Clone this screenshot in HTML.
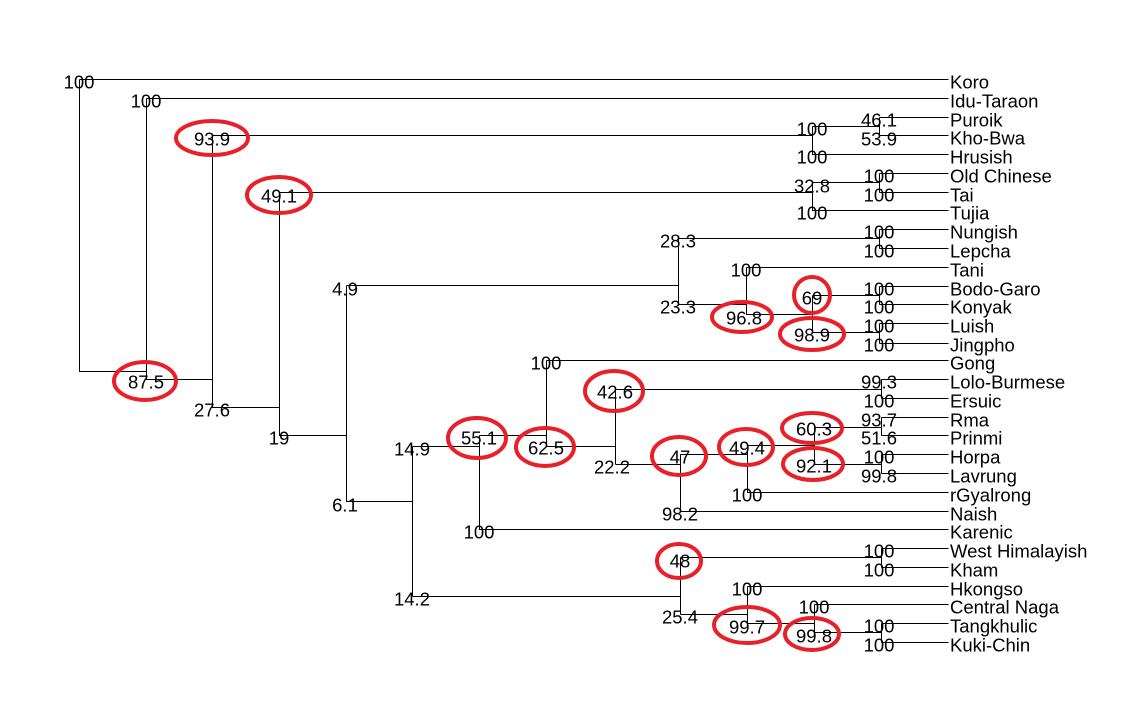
<!DOCTYPE html>
<html><head><meta charset="utf-8"><style>html,body{margin:0;padding:0;background:#fff}svg{display:block}text{font-family:"Liberation Sans",Arial,sans-serif;font-size:18.5px;fill:#000}</style></head><body>
<svg width="1138" height="713" viewBox="0 0 1138 713" xmlns="http://www.w3.org/2000/svg">
<g stroke="#000" stroke-width="1" fill="none" transform="translate(0.5,0.5)">
<path d="M79 79H948M79 79V371H146M146 98H948M146 98V379H212M212 135H812M212 135V407H279M279 192H812M279 192V435H346M346 285H678M346 285V501H412"/>
<path d="M812 126H879M879 117V135M879 117H948M879 135H948M812 126V154H948"/>
<path d="M812 182H879M879 173V192M879 173H948M879 192H948M812 182V210H948"/>
<path d="M678 238H879M879 229V248M879 229H948M879 248H948M678 238V304H746M746 267H948M746 267V314H812M812 295V332M812 295H879M879 286V304M879 286H948M879 304H948M812 332H879M879 323V343M879 323H948M879 343H948"/>
<path d="M412 446V596M412 446H479M479 435V529H948M479 435H546M546 360V446H615M546 360H948M615 389V464M615 389H881M881 379V398M881 379H948M881 398H948M615 464H680M680 454V511H948M680 454H747M747 445V492H948M747 445H814M814 427V464M814 427H881M881 417V435M881 417H948M881 435H948M814 464H881M881 454V473M881 454H948M881 473H948"/>
<path d="M412 596H680M680 557V614M680 557H881M881 548V567M881 548H948M881 567H948M680 614H747M747 586V623M747 586H948M747 623H814M814 604V632M814 604H948M814 632H881M881 623V642M881 623H948M881 642H948"/>
</g>
<g stroke="#e8202a" stroke-width="4" fill="none">
<ellipse cx="212" cy="138" rx="36" ry="17"/><ellipse cx="279" cy="195" rx="32" ry="18"/><ellipse cx="145" cy="381" rx="31" ry="19"/>
<ellipse cx="812" cy="295" rx="18" ry="18"/><ellipse cx="742" cy="317" rx="30" ry="15"/><ellipse cx="812" cy="334" rx="32" ry="16"/>
<ellipse cx="614" cy="391" rx="29" ry="20"/><ellipse cx="477" cy="438" rx="29" ry="20"/><ellipse cx="545" cy="447" rx="29" ry="19"/>
<ellipse cx="679" cy="456" rx="27" ry="19"/><ellipse cx="746" cy="447" rx="27" ry="18"/><ellipse cx="812" cy="428" rx="30" ry="15"/>
<ellipse cx="813" cy="464" rx="30" ry="16"/><ellipse cx="679" cy="561" rx="22" ry="17"/><ellipse cx="747" cy="625" rx="33" ry="18"/><ellipse cx="812" cy="634" rx="27" ry="16"/>
</g>
<g text-anchor="middle" dominant-baseline="central">
<text x="79" y="82">100</text><text x="146" y="101">100</text><text x="212" y="139">93.9</text><text x="279" y="196">49.1</text>
<text x="146" y="382">87.5</text><text x="212" y="410">27.6</text><text x="279" y="438">19</text><text x="345" y="289">4.9</text><text x="345" y="505">6.1</text>
<text x="412" y="449">14.9</text><text x="412" y="599">14.2</text><text x="479" y="438">55.1</text><text x="479" y="532">100</text>
<text x="546" y="363">100</text><text x="546" y="448">62.5</text><text x="615" y="392">42.6</text><text x="612" y="467">22.2</text>
<text x="680" y="457">47</text><text x="680" y="514">98.2</text><text x="747" y="448">49.4</text><text x="747" y="495">100</text>
<text x="814" y="429">60.3</text><text x="814" y="466">92.1</text><text x="680" y="561">48</text><text x="680" y="617">25.4</text>
<text x="747" y="589">100</text><text x="747" y="627">99.7</text><text x="814" y="607">100</text><text x="814" y="636">99.8</text>
<text x="812" y="129">100</text><text x="812" y="157">100</text><text x="812" y="186">32.8</text><text x="812" y="213">100</text>
<text x="678" y="241">28.3</text><text x="678" y="307">23.3</text><text x="746" y="270">100</text><text x="744" y="318">96.8</text>
<text x="812" y="298">69</text><text x="812" y="335">98.9</text>
<text x="879" y="120">46.1</text><text x="879" y="139">53.9</text><text x="879" y="176">100</text><text x="879" y="195">100</text>
<text x="879" y="232">100</text><text x="879" y="251">100</text><text x="879" y="289">100</text><text x="879" y="307">100</text>
<text x="879" y="326">100</text><text x="879" y="345">100</text><text x="879" y="382">99.3</text><text x="879" y="401">100</text>
<text x="879" y="420">93.7</text><text x="879" y="438">51.6</text><text x="879" y="457">100</text><text x="879" y="476">99.8</text>
<text x="879" y="551">100</text><text x="879" y="570">100</text><text x="879" y="626">100</text><text x="879" y="645">100</text>
</g>
<g dominant-baseline="central">
<text x="950" y="82">Koro</text><text x="950" y="101">Idu-Taraon</text><text x="950" y="120">Puroik</text><text x="950" y="138">Kho-Bwa</text>
<text x="950" y="157">Hrusish</text><text x="950" y="176">Old Chinese</text><text x="950" y="195">Tai</text><text x="950" y="213">Tujia</text>
<text x="950" y="232">Nungish</text><text x="950" y="251">Lepcha</text><text x="950" y="270">Tani</text><text x="950" y="289">Bodo-Garo</text>
<text x="950" y="307">Konyak</text><text x="950" y="326">Luish</text><text x="950" y="345">Jingpho</text><text x="950" y="363">Gong</text>
<text x="950" y="382">Lolo-Burmese</text><text x="950" y="401">Ersuic</text><text x="950" y="420">Rma</text><text x="950" y="438">Prinmi</text>
<text x="950" y="457">Horpa</text><text x="950" y="476">Lavrung</text><text x="950" y="495">rGyalrong</text><text x="950" y="514">Naish</text>
<text x="950" y="532">Karenic</text><text x="950" y="551">West Himalayish</text><text x="950" y="570">Kham</text><text x="950" y="589">Hkongso</text>
<text x="950" y="607">Central Naga</text><text x="950" y="626">Tangkhulic</text><text x="950" y="645">Kuki-Chin</text>
</g>
</svg>
</body></html>
